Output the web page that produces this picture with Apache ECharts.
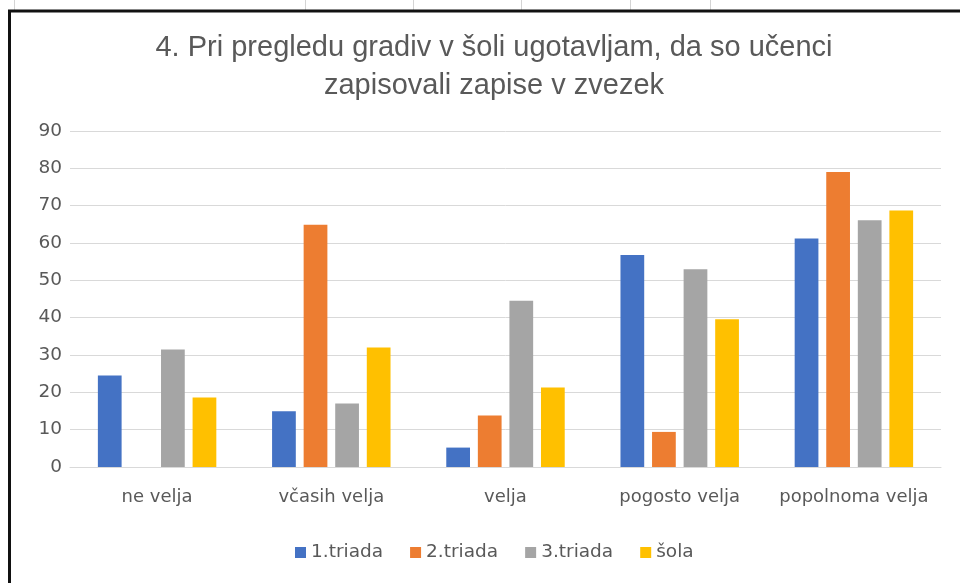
<!doctype html>
<html>
<head>
    <meta charset="utf-8">
    <title>Pri pregledu gradiv</title>
    <script src="https://cdn.jsdelivr.net/npm/echarts@6/dist/echarts.min.js"></script>
</head>
<style>
    html, body {
        margin: 0;
        padding: 0;
        background: #fff;
    }
    #chart {
        width: 960px;
        height: 583px;
    }
</style>
<body>
<div id="chart"></div>
<script>
  // data
  var categories = ['ne velja', 'včasih velja', 'velja', 'pogosto velja', 'popolnoma velja'];
  var triada1 = [24.5, 14.9, 5.2, 56.8, 61.2];
  var triada2 = [0, 64.9, 13.8, 9.4, 79.0];
  var triada3 = [31.5, 17.0, 44.5, 53.0, 66.1];
  var sola = [18.6, 32.0, 21.3, 39.6, 68.7];
  var seriesNames = ['1.triada', '2.triada', '3.triada', 'šola'];
  var colors = ['#4472C4', '#ED7D31', '#A5A5A5', '#FFC000'];
  var yTicks = { min: 0, max: 90, interval: 10 };

  var myChart = echarts.init(document.getElementById('chart'));

  // spreadsheet cell lines showing above the chart box
  var cellLines = [14, 305, 413, 521, 630, 710];
  var graphics = cellLines.map(function (x) {
    return {
      type: 'line',
      shape: { x1: x + 0.5, y1: 0, x2: x + 0.5, y2: 10 },
      style: { stroke: '#D4D4D4', lineWidth: 1 }
    };
  });
  // chart frame (top + left edges visible)
  graphics.push({
    type: 'polyline',
    shape: { points: [[9.5, 583], [9.5, 11], [960, 11]] },
    style: { stroke: '#111', lineWidth: 3, fill: null }
  });

  var data = [triada1, triada2, triada3, sola];

  var option = {
    backgroundColor: '#fff',
    animation: false,
    color: colors,
    title: {
      text: '4. Pri pregledu gradiv v šoli ugotavljam, da so učenci\nzapisovali zapise v zvezek',
      left: 489,
      top: 24,
      textAlign: 'center',
      textStyle: {
        fontFamily: 'Liberation Sans',
        fontSize: 29,
        fontWeight: 'normal',
        color: '#595959',
        lineHeight: 38
      }
    },
    legend: {
      data: seriesNames,
      left: 290,
      top: 538,
      icon: 'rect',
      itemWidth: 11,
      itemHeight: 11,
      itemGap: 27,
      textStyle: {
        fontFamily: 'DejaVu Sans',
        fontSize: 18.5,
        color: '#595959'
      }
    },
    grid: {
      left: 70,
      right: 19,
      top: 131,
      bottom: 116,
      containLabel: false
    },
    xAxis: {
      type: 'category',
      data: categories,
      axisTick: { show: false },
      axisLine: { lineStyle: { color: '#D9D9D9', width: 1 } },
      axisLabel: {
        interval: 0,
        hideOverlap: false,
        margin: 21,
        fontFamily: 'DejaVu Sans',
        fontSize: 18,
        color: '#595959'
      }
    },
    yAxis: {
      type: 'value',
      min: yTicks.min,
      max: yTicks.max,
      interval: yTicks.interval,
      axisLine: { show: false },
      axisTick: { show: false },
      splitLine: { lineStyle: { color: '#D9D9D9', width: 1 } },
      axisLabel: {
        margin: 8,
        fontFamily: 'DejaVu Sans',
        fontSize: 18.5,
        color: '#595959'
      }
    },
    graphic: graphics,
    series: seriesNames.map(function (name, i) {
      return {
        name: name,
        type: 'bar',
        data: data[i],
        barGap: '33%',
        barCategoryGap: '32%',
        itemStyle: { color: colors[i] }
      };
    })
  };

  myChart.setOption(option);
</script>
</body>
</html>
